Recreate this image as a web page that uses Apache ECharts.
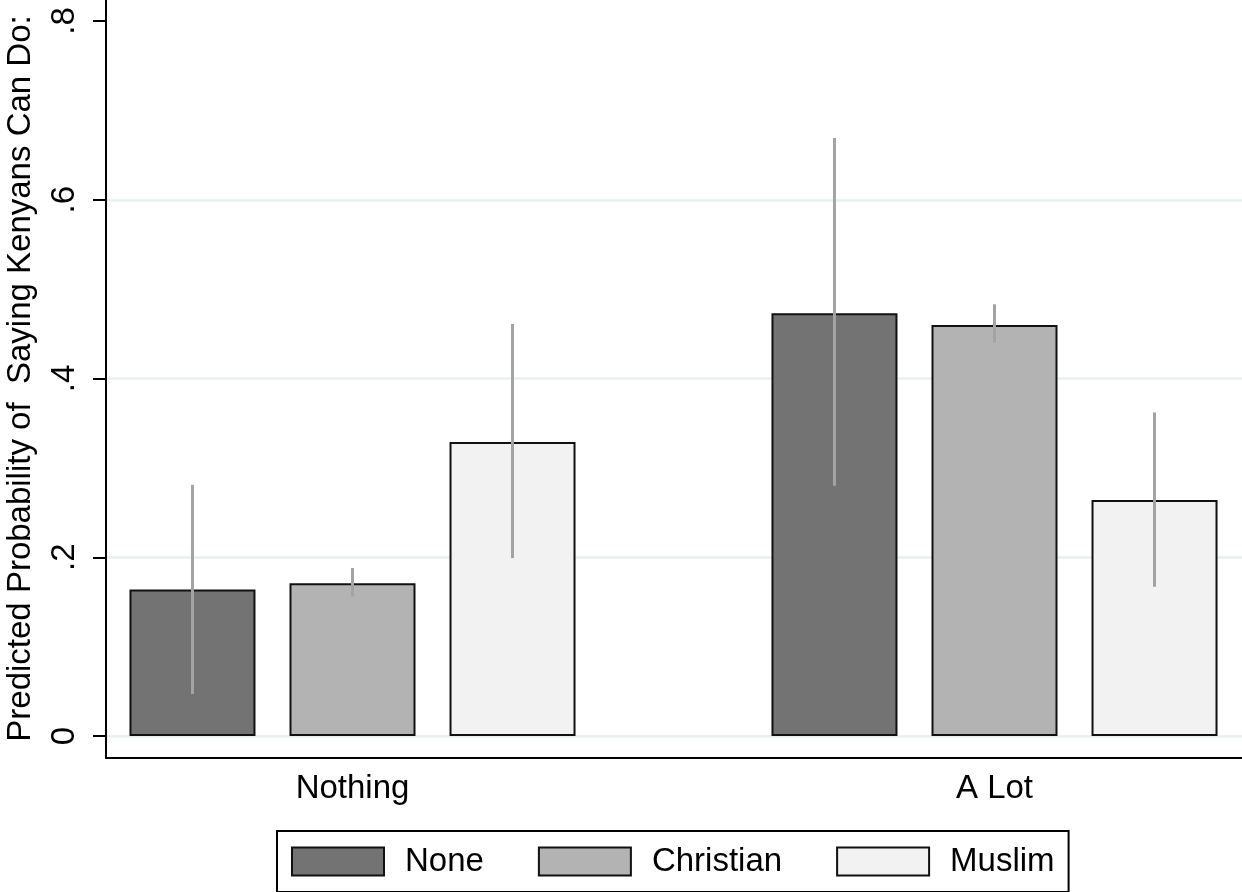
<!DOCTYPE html>
<html>
<head>
<meta charset="utf-8">
<script src="https://cdn.jsdelivr.net/npm/echarts@6/dist/echarts.min.js"></script>
<style>
html,body{margin:0;padding:0;background:#fff;}
#chart{width:1242px;height:892px;}
</style>
</head>
<body>
<div id="chart"></div>
<script>
// ---- data ----
const categories = ['Nothing', 'A Lot'];
const groupNames = ['None', 'Christian', 'Muslim'];
const noneVals = [0.164, 0.473];
const christianVals = [0.171, 0.460];
const muslimVals = [0.329, 0.264];
const noneLo = [0.047, 0.280];
const noneHi = [0.281, 0.669];
const christianLo = [0.156, 0.440];
const christianHi = [0.188, 0.483];
const muslimLo = [0.199, 0.167];
const muslimHi = [0.461, 0.362];
const yTicks = [0, 0.2, 0.4, 0.6, 0.8];
const yTickLabels = ['0', '.2', '.4', '.6', '.8'];
const yTitle = 'Predicted Probability of  Saying Kenyans Can Do:';

const FONT = 'Liberation Sans, Arial, Helvetica, sans-serif';
const colors = ['#737373', '#b3b3b3', '#f2f2f2'];
const BAR_W = 126, BAR_GAP = '27%';

const vals = [noneVals, christianVals, muslimVals];
const los = [noneLo, christianLo, muslimLo];
const his = [noneHi, christianHi, muslimHi];

const errData = [];
for (let g = 0; g < 3; g++) {
  for (let c = 0; c < categories.length; c++) {
    errData.push([c, los[g][c], his[g][c], g]);
  }
}

const barSeries = groupNames.map((name, g) => ({
  name: name,
  type: 'bar',
  xAxisIndex: 2,
  yAxisIndex: 2,
  barWidth: BAR_W,
  barGap: BAR_GAP,
  clip: false,
  data: vals[g],
  itemStyle: { color: colors[g], borderColor: '#111', borderWidth: 2 },
  emphasis: { disabled: true },
  z: 3
}));

const option = {
  animation: false,
  backgroundColor: '#fff',
  textStyle: { fontFamily: FONT },
  grid: [
    { left: 106, right: 0, top: 0, bottom: 134, outerBoundsMode: 'none', containLabel: false },   // frame
    { left: 106, right: 0, top: 21, bottom: 156, outerBoundsMode: 'none', containLabel: false },  // scale
    { left: 31.5, width: 1284, top: 21, bottom: 156, outerBoundsMode: 'none', containLabel: false } // bars
  ],
  xAxis: [
    { gridIndex: 0, type: 'value', min: 0, max: 1,
      axisLine: { show: true, onZero: false, lineStyle: { color: '#000', width: 2 } },
      axisTick: { show: false }, axisLabel: { show: false }, splitLine: { show: false } },
    { gridIndex: 1, type: 'value', min: 0, max: 1, show: false },
    { gridIndex: 2, type: 'category', data: categories,
      axisLine: { show: false }, axisTick: { show: false }, splitLine: { show: false },
      axisLabel: { color: '#000', fontSize: 33, fontFamily: FONT, margin: 36 } }
  ],
  yAxis: [
    { gridIndex: 0, type: 'value', min: 0, max: 1,
      axisLine: { show: true, onZero: false, lineStyle: { color: '#000', width: 2 } },
      axisTick: { show: false }, axisLabel: { show: false }, splitLine: { show: false } },
    { gridIndex: 1, type: 'value', min: 0, max: 0.8, interval: 0.2,
      name: yTitle, nameLocation: 'middle', nameRotate: 90, nameGap: 69,
      nameTextStyle: { color: '#000', fontSize: 33, fontFamily: FONT },
      axisLine: { show: false },
      axisTick: { show: true, length: 13, lineStyle: { color: '#000', width: 2 } },
      axisLabel: { color: '#000', fontSize: 33, fontFamily: FONT, rotate: 90, margin: 25,
        formatter: function (v) {
          const i = yTicks.findIndex(t => Math.abs(t - v) < 1e-9);
          return i >= 0 ? yTickLabels[i] : '';
        } },
      splitLine: { show: true, showMaxLine: false, lineStyle: { color: '#e8f0f0', width: 2.5 } } },
    { gridIndex: 2, type: 'value', min: 0, max: 0.8, show: false }
  ],
  legend: {
    data: groupNames,
    left: 277, top: 831,
    orient: 'horizontal',
    padding: [14, 14, 14, 14],
    borderColor: '#000', borderWidth: 2,
    itemWidth: 92, itemHeight: 28, itemGap: 54,
    icon: 'rect',
    selectedMode: false,
    textStyle: { color: '#000', fontSize: 33, fontFamily: FONT, padding: [0, 0, 0, 16], lineHeight: 30 }
  },
  series: barSeries.concat([{
    type: 'custom',
    xAxisIndex: 2,
    yAxisIndex: 2,
    silent: true,
    clip: false,
    z: 5,
    data: errData,
    renderItem: function (params, api) {
      const c = api.value(0), lo = api.value(1), hi = api.value(2), g = api.value(3);
      const p1 = api.coord([c, lo]);
      const p2 = api.coord([c, hi]);
      const layout = api.barLayout({ count: 3, barWidth: BAR_W, barGap: BAR_GAP });
      const x = p1[0] + layout[g].offsetCenter;
      return {
        type: 'line',
        shape: { x1: x, y1: p1[1], x2: x, y2: p2[1] },
        style: { stroke: '#a3a3a3', lineWidth: 3 }
      };
    }
  }])
};

const chart = echarts.init(document.getElementById('chart'), null, { renderer: 'canvas' });
chart.setOption(option);
</script>
</body>
</html>
